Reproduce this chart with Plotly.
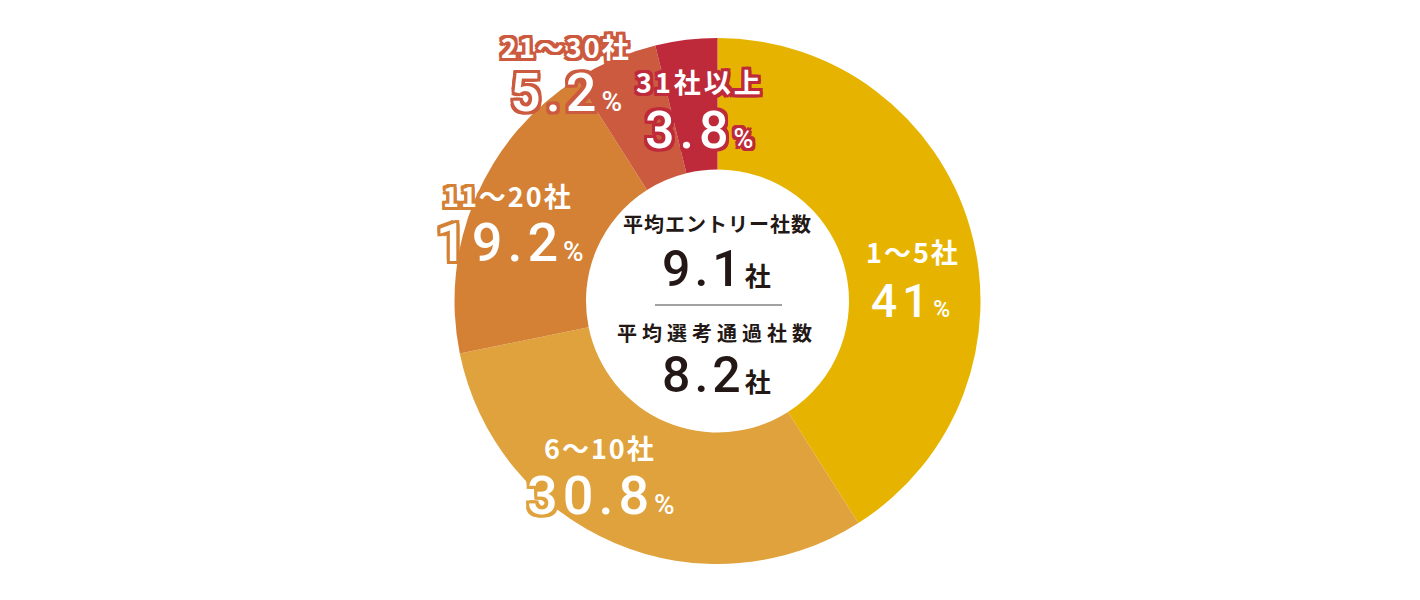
import plotly.graph_objects as go

# 応募社数の分布
categories = ["1～5社", "6～10社", "11～20社", "21～30社", "31社以上"]
shares = [41, 30.8, 19.2, 5.2, 3.8]
slice_colors = ["#E6B400", "#E0A23C", "#D48136", "#CC5A3E", "#BE2A3A"]

# 中央の平均値
avg_titles = ["平均エントリー社数", "平均選考通過社数"]
avg_values = [9.1, 8.2]

W, H = 1420, 600
OFF = 8  # page body margin
JP = "Noto Sans CJK JP"
NUM = "Roboto, Noto Sans CJK JP"


def px(x):
    return (x - OFF) / W


def py(y):
    return 1 - (y - OFF) / H


def outline(c, w=3):
    offs = [(-w, -w), (w, -w), (-w, w), (w, w), (0, w), (w, 0), (0, -w), (-w, 0),
            (-w, -w // 2), (w, w // 2), (-w // 2, w), (w // 2, -w)]
    return ", ".join(f"{dx}px {dy}px 0 {c}" for dx, dy in offs)


fig = go.Figure(go.Pie(
    labels=categories,
    values=shares,
    hole=0.5,
    sort=False,
    direction="clockwise",
    rotation=0,
    textinfo="none",
    marker=dict(colors=slice_colors, line=dict(width=0)),
    showlegend=False,
    domain=dict(x=[px(454), px(981)], y=[py(564), py(38)]),
))

# ラベル位置 (ピクセル): 区分名, パーセント
label_pos = [
    ((913, 251), (910, 301), False),
    ((600, 448), (601, 495), True),
    ((508, 195), (510, 242), True),
    ((566, 46), (566, 93), True),
    ((700, 81), (699, 130), True),
]
num_size = [46, 54, 54, 54, 52]
label_spacing = [2, 2, 2, 2, 3]

ann = []
for i, cat in enumerate(categories):
    (lx, ly), (vx, vy), stroke = label_pos[i]
    sh = outline(slice_colors[i]) if stroke else "none"
    ann.append(dict(
        x=px(lx), y=py(ly), xref="paper", yref="paper", showarrow=False,
        text=f"<span style='letter-spacing:{label_spacing[i]}px'>{cat}</span>",
        font=dict(family=JP, size=27, color="white", weight="bold", shadow=sh),
        xanchor="center", yanchor="middle",
    ))
    v = shares[i]
    vtxt = f"{v:g}"
    ann.append(dict(
        x=px(vx), y=py(vy), xref="paper", yref="paper", showarrow=False,
        text=f"<span style='letter-spacing:5px'>{vtxt}</span>"
             f"<span style='font-size:{int(num_size[i]*0.52)}px'>%</span>",
        font=dict(family=NUM, size=num_size[i], color="white", weight=500, shadow=sh),
        xanchor="center", yanchor="middle",
    ))

# 中央テキスト
center_rows = [(223, 269), (332, 375)]
title_spacing = [1, 5]
for (ty, vy), title, val, ls in zip(center_rows, avg_titles, avg_values, title_spacing):
    ann.append(dict(
        x=px(717), y=py(ty), xref="paper", yref="paper", showarrow=False,
        text=f"<span style='letter-spacing:{ls}px'>{title}</span>",
        font=dict(family=JP, size=20, color="#231815", weight="bold"),
        xanchor="center", yanchor="middle",
    ))
    ann.append(dict(
        x=px(716), y=py(vy), xref="paper", yref="paper", showarrow=False,
        text=f"<span style='letter-spacing:4px'>{val:.1f}</span>"
             f"<span style='font-size:26px;font-weight:bold'>社</span>",
        font=dict(family=NUM, size=50, color="#231815", weight=500),
        xanchor="center", yanchor="middle",
    ))

fig.update_layout(
    width=W, height=H,
    margin=dict(l=0, r=0, t=0, b=0),
    paper_bgcolor="white", plot_bgcolor="white",
    annotations=ann,
    shapes=[dict(type="line", xref="paper", yref="paper",
                 x0=px(655), x1=px(782), y0=py(305), y1=py(305),
                 line=dict(color="#444444", width=1))],
)

fig.write_html("out.html")
